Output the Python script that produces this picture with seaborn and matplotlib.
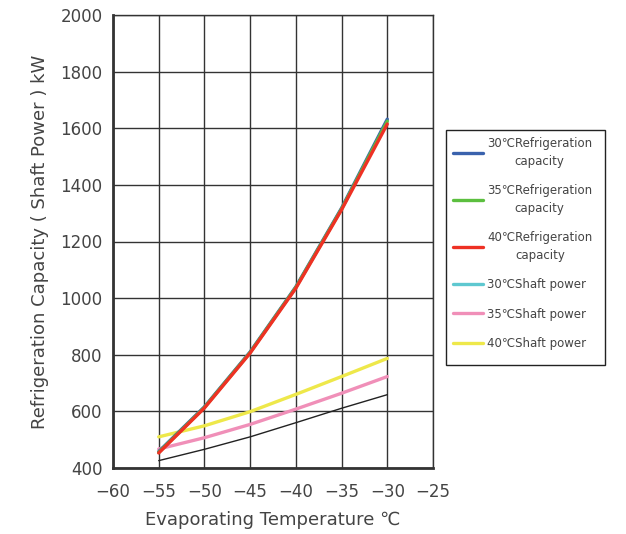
import matplotlib
matplotlib.use("Agg")
import matplotlib.pyplot as plt
from matplotlib.lines import Line2D
from matplotlib.patches import Rectangle
import seaborn as sns
import pandas as pd

temps = [-55, -50, -45, -40, -35, -30]
cap_30 = [458, 616, 810, 1040, 1318, 1632]
cap_35 = [455, 614, 808, 1038, 1315, 1625]
cap_40 = [453, 612, 806, 1035, 1312, 1615]
pow_30 = [426, 466, 510, 560, 611, 659]
pow_35 = [467, 507, 554, 608, 664, 723]
pow_40 = [510, 549, 599, 660, 723, 787]

labels = ["30℃Refrigeration\ncapacity", "35℃Refrigeration\ncapacity",
          "40℃Refrigeration\ncapacity", "30℃Shaft power",
          "35℃Shaft power", "40℃Shaft power"]
series = [cap_30, cap_35, cap_40, pow_30, pow_35, pow_40]
colors = ["#3a62ad", "#5cbf3f", "#ee3124", "#5ec8d0", "#f08fb8", "#eee84a"]
draw_colors = ["#3a62ad", "#5cbf3f", "#ee3124", "#222222", "#f08fb8", "#eee84a"]
widths = [2.4, 2.4, 2.4, 1.0, 2.4, 2.4]

rows = []
for lab, vals in zip(labels, series):
    for t, v in zip(temps, vals):
        rows.append({"temp": t, "value": v, "series": lab})
df = pd.DataFrame(rows)

sns.set_style("white")
plt.rcParams['font.family'] = ['DejaVu Sans']

W, H = 626, 534
fig = plt.figure(figsize=(W / 100, H / 100), dpi=100)
ax = fig.add_axes([113 / W, 1 - 468 / H, 320 / W, 453 / H])

draw_order = [3, 4, 5, 0, 1, 2]
for i in draw_order:
    sub = df[df["series"] == labels[i]]
    sns.lineplot(data=sub, x="temp", y="value", ax=ax, color=draw_colors[i],
                 linewidth=widths[i], legend=False)

ax.set_xlim(-60, -25)
ax.set_ylim(400, 2000)
ax.set_xticks(list(range(-60, -24, 5)))
ax.set_yticks(list(range(400, 2001, 200)))
ax.set_xticklabels(["\u2212" + str(abs(t)) for t in range(-60, -24, 5)])
ax.grid(True, color="#333333", linewidth=1.0)
ax.set_axisbelow(True)
for s in ["left", "bottom"]:
    ax.spines[s].set_linewidth(2.0)
    ax.spines[s].set_color("#333333")
for s in ["top", "right"]:
    ax.spines[s].set_linewidth(1.0)
    ax.spines[s].set_color("#333333")
ax.tick_params(axis="both", labelsize=12, labelcolor="#444444", color="#333333",
               length=4, width=1)
ax.tick_params(axis="x", pad=7)
ax.set_xlabel("Evaporating Temperature ℃", fontsize=13, color="#444444", labelpad=7)
ax.set_ylabel("Refrigeration Capacity ( Shaft Power ) kW", fontsize=13, color="#444444", labelpad=8)

# legend frame
fig.patches.append(Rectangle((446 / W, 1 - 365 / H), 159 / W, 235 / H,
                             transform=fig.transFigure, fill=False,
                             edgecolor="#222222", linewidth=1.0))

handles = [Line2D([0], [0], color=c, linewidth=2.4) for c in colors]
leg = fig.legend(handles, labels, loc="upper left",
                 bbox_to_anchor=(453 / W, 1 - 137 / H),
                 frameon=False, fontsize=8.5, borderpad=0, borderaxespad=0,
                 handlelength=2.55, handletextpad=0.35, labelspacing=1.4,
                 labelcolor="#444444")
for t in leg.get_texts():
    t.set_multialignment("center")
    t.set_linespacing(1.45)

fig.savefig("out.png", dpi=100)
